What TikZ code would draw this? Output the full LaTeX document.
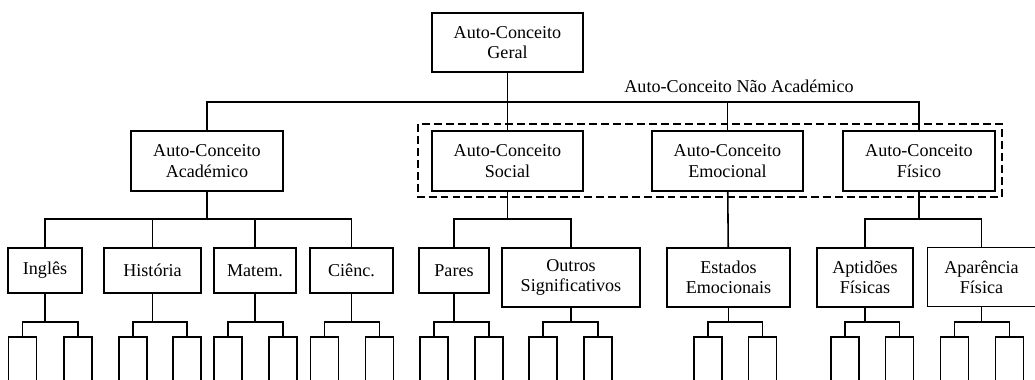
\documentclass[tikz,border=0pt]{standalone}
\usepackage{fontspec}
\setmainfont{Liberation Serif}

\begin{document}
\begin{tikzpicture}[x=0.02cm, y=-0.02cm, line width=.9pt]
\tikzstyle{every node}=[font=\fontsize{10.3}{11.5}\selectfont]
\tikzstyle{cbox}=[draw, align=center, inner sep=0pt]
\tikzstyle{leaf}=[draw, inner sep=0pt, minimum width=0.56cm, minimum height=1.3cm]
\useasboundingbox (0,0) rectangle (1035,379);
\clip (0,0) rectangle (1035,379);
% levels 1 and 2
\draw (507.5,42.5) node (geral) [cbox, minimum width=3.02cm, minimum height=1.18cm] {Auto-Conceito\\Geral};
\draw (207,161) node (acad) [cbox, minimum width=3.04cm, minimum height=1.2cm] {Auto-Conceito\\Académico};
\draw (507.5,161) node (soc) [cbox, minimum width=3.02cm, minimum height=1.2cm] {Auto-Conceito\\Social};
\draw (727.5,161) node (emo) [cbox, minimum width=3.02cm, minimum height=1.2cm] {Auto-Conceito\\Emocional};
\draw (919,161) node (fis) [cbox, minimum width=3.04cm, minimum height=1.2cm] {Auto-Conceito\\Físico};
\draw (739,92.5) node (nacad) [anchor=base] {Auto-Conceito Não Académico};
\draw [dashed, dash pattern=on 4.5pt off 2.3pt] (418,124) rectangle (1002,197);
% level 3
\draw (45,270.5) node (ing) [cbox, minimum width=1.48cm, minimum height=0.9cm] {Inglês};
\draw (152.5,270.5) node (hist) [cbox, minimum width=1.94cm, minimum height=0.9cm] {História};
\draw (255,270.5) node (mat) [cbox, minimum width=1.64cm, minimum height=0.9cm] {Matem.};
\draw (351.5,270.5) node (cie) [cbox, minimum width=1.66cm, minimum height=0.9cm] {Ciênc.};
\draw (454,270.5) node (par) [cbox, minimum width=1.4cm, minimum height=0.9cm] {Pares};
\draw (571,277.5) node (out) [cbox, minimum width=2.76cm, minimum height=1.18cm] {Outros\\Significativos};
\draw (728.5,277.5) node (est) [cbox, minimum width=2.46cm, minimum height=1.18cm] {Estados\\Emocionais};
\draw (865,277.5) node (apt) [cbox, minimum width=1.92cm, minimum height=1.18cm] {Aptidões\\Físicas};
\draw (981.5,277) node (apa) [cbox, minimum width=2.16cm, minimum height=1.18cm] {Aparência\\Física};
% level 4
\foreach \p/\xl/\xr in {ing/22.5/78, hist/133/187, mat/228/283, cie/324.5/379.5, par/434/489,
  out/543/598, est/708/762.5, apt/845/899.5, apa/954.5/1009.5} {
  \draw (\xl,369.5) node (\p-l) [leaf] {};
  \draw (\xr,369.5) node (\p-r) [leaf] {};
}
\coordinate (bar1) at (0,102);
\coordinate (bar2) at (0,219);
\coordinate (bar3) at (0,322);
\draw (geral) -- (soc);
\draw (acad.north) |- (bar1 -| fis) -- (fis.north);
\draw (emo.north) -- (emo.north |- bar1);
\draw (ing.north) |- (bar2 -| cie) -- (cie.north);
\draw (hist.north) -- (hist.north |- bar2);
\draw (mat.north) -- (mat.north |- bar2);
\draw (acad) -- (acad.south |- bar2);
\draw (par.north) |- (bar2 -| out) -- (out.north);
\draw (soc) -- (soc.south |- bar2);
\draw (emo) -- (est);
\draw (apt.north) |- (bar2 -| apa) -- (apa.north);
\draw (fis) -- (fis.south |- bar2);
\foreach \p in {ing,hist,mat,cie,par,out,est,apt,apa} {
  \draw (\p-l.north) |- (bar3 -| \p-r) -- (\p-r.north);
  \draw (\p) -- (\p.south |- bar3);
}
\end{tikzpicture}
\end{document}
